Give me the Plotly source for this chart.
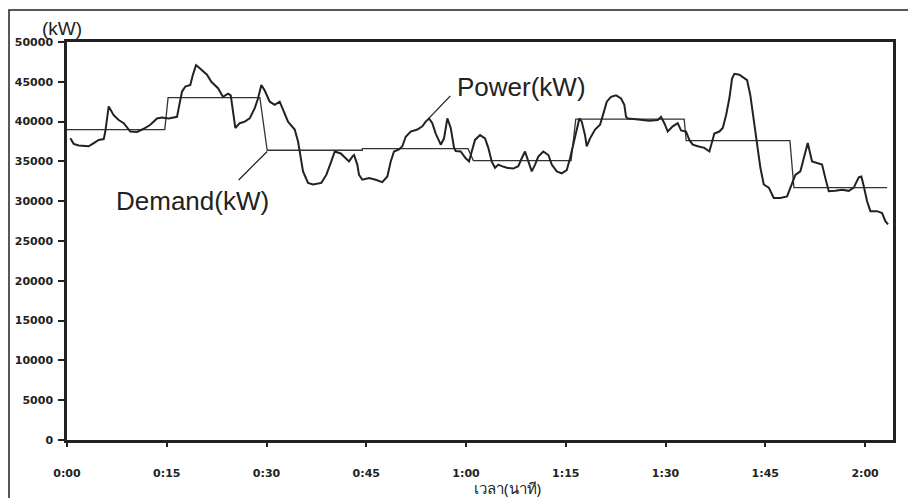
import plotly.graph_objects as go

# ---- data (minutes from start, kW) ----
power_min = [0.50, 1.01, 1.76, 3.26, 4.02, 4.77, 5.52, 5.76, 6.27, 7.02, 7.77, 8.53, 9.52, 10.53, 11.53,
             12.53, 13.53, 14.29, 15.29, 16.54, 16.89, 17.29, 17.79, 18.54, 18.90, 19.40, 19.70, 21.05,
             21.70, 22.71, 23.46, 24.21, 24.62, 24.96, 25.31, 25.97, 26.72, 27.47, 28.23, 28.72, 29.22,
             29.73, 30.48, 31.23, 31.98, 32.48, 33.23, 34.24, 34.74, 34.99, 35.49, 36.24, 36.99, 38.24,
             38.99, 39.74, 40.26, 41.16, 41.65, 42.41, 42.90, 43.16, 43.65, 43.91, 44.41, 45.41, 46.42,
             47.41, 48.17, 48.68, 49.17, 49.92, 50.42, 50.93, 51.68, 52.68, 53.43, 53.94, 54.44, 54.93,
             55.44, 56.20, 56.69, 57.19, 57.70, 58.20, 58.45, 59.20, 59.95, 60.45, 60.86, 61.35, 62.11,
             62.86, 63.35, 63.86, 64.36, 64.86, 65.37, 66.12, 67.11, 67.86, 68.38, 68.87, 69.37, 69.88,
             70.38, 70.87, 71.62, 72.38, 72.89, 73.64, 74.39, 75.14, 75.64, 76.14, 76.65, 77.04, 77.40,
             77.89, 78.15, 78.65, 79.40, 80.15, 80.65, 81.16, 81.80, 82.56, 83.31, 83.80, 84.06, 84.32,
             85.56, 86.81, 87.56, 88.83, 89.32, 89.82, 90.33, 91.08, 91.83, 92.33, 93.08, 93.58, 94.09,
             94.84, 95.83, 96.59, 96.99, 97.34, 98.09, 98.60, 99.10, 99.59, 100.00, 100.35, 101.10,
             101.80, 102.26, 102.75, 103.26, 103.76, 104.26, 104.77, 105.52, 106.27, 107.26, 108.27,
             109.02, 109.52, 110.27, 111.02, 111.38, 112.03, 112.78, 113.53, 114.03, 114.54, 115.53,
             116.54, 117.55, 118.30, 119.05, 119.44, 119.80, 120.30, 120.80, 121.80, 122.56, 123.05,
             123.46]
power_kw = [37900, 37200, 37000, 36900, 37300, 37700, 37800, 38750, 41900, 40800, 40200, 39800, 38750,
            38700, 39100, 39600, 40400, 40500, 40400, 40600, 42100, 43750, 44400, 44600, 45800, 47100,
            46900, 45900, 45000, 44200, 43100, 43500, 43300, 41500, 39200, 39800, 40000, 40400, 41700,
            42900, 44600, 43900, 42500, 42100, 42500, 41500, 40000, 39000, 37500, 36250, 33750, 32300,
            32100, 32300, 33300, 35000, 36250, 36000, 35600, 35000, 35600, 35800, 34600, 33300, 32700,
            32900, 32700, 32400, 33100, 35000, 36250, 36500, 36900, 38100, 38750, 39000, 39400, 40000,
            40400, 39800, 38500, 37100, 37900, 40400, 39200, 36700, 36300, 36250, 35400, 35000, 36250,
            37700, 38300, 37900, 36700, 35000, 34200, 34600, 34400, 34200, 34100, 34400, 35400, 36250,
            35000, 33750, 34600, 35600, 36250, 35800, 34600, 33750, 33500, 33900, 35400, 37100, 39200,
            40400, 40000, 38300, 36900, 37900, 39000, 39600, 41000, 42500, 43100, 43300, 42900, 42100,
            40600, 40400, 40300, 40200, 40100, 40200, 40600, 39800, 38750, 39400, 39800, 38900, 38750,
            37700, 37100, 36900, 36700, 36250, 37500, 38500, 38750, 39200, 40800, 42900, 45400, 46000,
            45900, 45500, 45200, 43300, 40400, 37100, 34200, 32100, 31700, 30400, 30400, 30600, 32100,
            33300, 33750, 36250, 37300, 35000, 34800, 34600, 32900, 31250, 31300, 31450, 31300, 31700,
            33000, 33100, 31900, 30000, 28750, 28750, 28500, 27500, 27100]

demand_min = [0, 14.7, 15.2, 29.0, 30.1, 44.4, 44.4, 60.3, 61.1, 75.8, 76.5, 92.8, 93.1, 108.7, 109.3, 123.3]
demand_kw = [39000, 39000, 43000, 43000, 36400, 36400, 36600, 36600, 35100, 35100, 40300, 40300,
             37600, 37600, 31700, 31700]

x_tick_vals = [0, 15, 30, 45, 60, 75, 90, 105, 120]
x_tick_text = ["0:00", "0:15", "0:30", "0:45", "1:00", "1:15", "1:30", "1:45", "2:00"]
y_tick_vals = [0, 5000, 10000, 15000, 20000, 25000, 30000, 35000, 40000, 45000, 50000]
y_tick_text = ["0", "5000", "10000", "15000", "20000", "25000", "30000", "35000", "40000", "45000", "50000"]

INK = "#222222"

fig = go.Figure()
fig.add_trace(go.Scatter(x=demand_min, y=demand_kw, mode="lines", name="Demand(kW)",
                         line=dict(color="#333333", width=1.3), hoverinfo="skip"))
fig.add_trace(go.Scatter(x=power_min, y=power_kw, mode="lines", name="Power(kW)",
                         line=dict(color=INK, width=2), hoverinfo="skip"))

tickfont = dict(family="DejaVu Sans", size=11, color=INK, weight="bold")

fig.update_layout(
    width=908, height=498,
    margin=dict(l=67, r=15, t=42, b=58),
    paper_bgcolor="white", plot_bgcolor="white",
    showlegend=False,
    xaxis=dict(range=[0, 124.2], tickvals=x_tick_vals, ticktext=x_tick_text, tickfont=tickfont,
               showgrid=False, zeroline=False, showline=True, linecolor=INK, linewidth=2.5,
               mirror=True, ticks="outside", ticklen=4, tickwidth=1.5, tickcolor=INK,
               ticklabelstandoff=17),
    yaxis=dict(range=[0, 50000], tickvals=y_tick_vals, ticktext=y_tick_text, tickfont=tickfont,
               showgrid=False, zeroline=False, showline=True, linecolor=INK, linewidth=2.5,
               mirror=True, ticks="outside", ticklen=6, tickwidth=1.5, tickcolor=INK,
               ticklabelstandoff=3),
    shapes=[dict(type="rect", xref="paper", yref="paper",
                 x0=(9 - 67) / 826, x1=(912 - 67) / 826,
                 y0=(440 - 505) / 398, y1=(440 - 10) / 398,
                 line=dict(color=INK, width=1.5), fillcolor="rgba(0,0,0,0)", layer="below")],
    annotations=[
        dict(x=-0.006, y=(440 - 29) / 398, xref="paper", yref="paper", text="(kW)",
             showarrow=False, font=dict(family="Liberation Sans", size=19, color=INK),
             xanchor="center", yanchor="middle"),
        dict(x=0.533, y=(440 - 488) / 398, xref="paper", yref="paper", text="เวลา(นาที)",
             showarrow=False, font=dict(family="Noto Sans, DejaVu Sans", size=15, color=INK),
             xanchor="center", yanchor="middle"),
        dict(x=68.3, y=44375, xref="x", yref="y", text="Power(kW)", showarrow=False,
             font=dict(family="Liberation Sans", size=26, color=INK), xanchor="center", yanchor="middle"),
        dict(x=18.8, y=30000, xref="x", yref="y", text="Demand(kW)", showarrow=False,
             font=dict(family="Liberation Sans", size=26, color=INK), xanchor="center", yanchor="middle"),
        dict(x=54.4, y=40400, xref="x", yref="y", text="", showarrow=True, arrowhead=0,
             arrowwidth=1.3, arrowcolor=INK, ax=23, ay=-24, axref="pixel", ayref="pixel"),
        dict(x=30.1, y=36250, xref="x", yref="y", text="", showarrow=True, arrowhead=0,
             arrowwidth=1.3, arrowcolor=INK, ax=-30, ay=30, axref="pixel", ayref="pixel"),
    ],
)

fig.write_html("out.html")
